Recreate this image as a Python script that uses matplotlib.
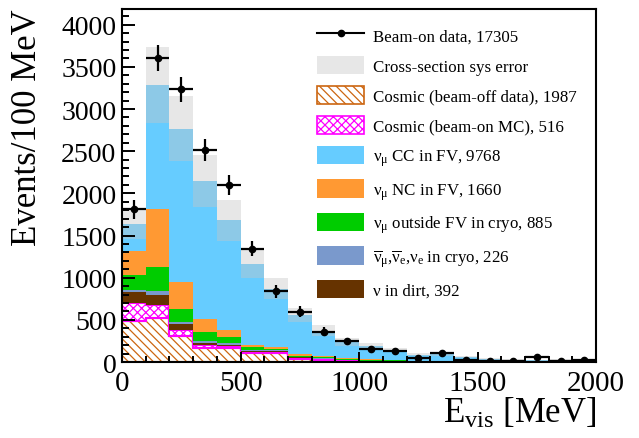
import matplotlib
matplotlib.use("Agg")
import matplotlib.pyplot as plt
import matplotlib.patches as mpatches
from matplotlib.lines import Line2D
from matplotlib.ticker import MultipleLocator
import numpy as np

plt.rcParams['font.family'] = ['Liberation Serif', 'DejaVu Serif']
plt.rcParams['mathtext.fontset'] = 'custom'
plt.rcParams['mathtext.rm'] = 'Liberation Serif'
plt.rcParams['mathtext.it'] = 'Liberation Serif:italic'
plt.rcParams['mathtext.bf'] = 'Liberation Serif:bold'
plt.rcParams['hatch.linewidth'] = 0.9

# bins of 100 MeV, 0 - 2000 MeV
edges = np.arange(0, 2100, 100)

# stacked MC components (events per bin), bottom to top
cosmic_off = [490, 517, 311, 168, 168, 106, 106, 40, 30, 15, 8, 5, 5, 5, 3, 3, 2, 2, 3, 3]
cosmic_on = [208, 157, 71, 37, 20, 14, 14, 8, 5, 4, 3, 2, 2, 2, 1, 1, 1, 1, 1, 1]
dirt = [127, 119, 64, 20, 20, 12, 10, 7, 5, 4, 4, 4, 2, 2, 1, 1, 1, 1, 1, 1]
nubar_nue = [30, 47, 24, 23, 17, 14, 8, 5, 4, 3, 2, 2, 1, 1, 1, 1, 1, 1, 1, 1]
numu_outfv = [174, 284, 157, 103, 68, 28, 16, 15, 10, 8, 6, 6, 2, 2, 2, 1, 1, 1, 1, 1]
numu_nc = [288, 694, 328, 154, 82, 27, 20, 20, 13, 10, 8, 6, 3, 3, 2, 2, 1, 1, 1, 1]
mc_total = [1633, 3280, 2768, 2145, 1680, 1165, 870, 555, 372, 236, 193, 146, 87, 90, 55, 35, 27, 20, 24, 27]
xsec_err = [170, 450, 385, 305, 240, 170, 125, 85, 62, 45, 30, 25, 18, 18, 12, 10, 8, 7, 7, 8]

# beam-on data
data = [1810, 3600, 3235, 2510, 2095, 1345, 840, 595, 362, 248, 158, 127, 45, 104, 28, 12, 10, 65, 16, 24]
data_err = [110, 155, 150, 130, 120, 90, 75, 65, 50, 35, 28, 25, 18, 22, 14, 10, 9, 18, 11, 13]

lower = [cosmic_off, cosmic_on, dirt, nubar_nue, numu_outfv, numu_nc]
numu_cc = np.array(mc_total) - np.sum(lower, axis=0)

labels = ["Beam-on data, 17305",
          "Cross-section sys error",
          "Cosmic (beam-off data), 1987",
          "Cosmic (beam-on MC), 516",
          r"ν$_{\mathrm{μ}}$ CC in FV, 9768",
          r"ν$_{\mathrm{μ}}$ NC in FV, 1660",
          r"ν$_{\mathrm{μ}}$ outside FV in cryo, 885",
          r"$\overline{\mathrm{ν}}_{\mathrm{μ}}$,$\overline{\mathrm{ν}}_{\mathrm{e}}$,$\mathrm{ν}_{\mathrm{e}}$ in cryo, 226",
          "ν in dirt, 392"]

c_off = '#cc6611'
c_on = '#ff00ff'
c_cc = '#66ccff'
c_nc = '#ff9933'
c_out = '#00cc00'
c_nubar = '#7a99cc'
c_dirt = '#663300'

fig = plt.figure(figsize=(6.39, 4.39), dpi=100)
ax = fig.add_axes([0.191, 0.173, 0.742, 0.805])

# stack
base = np.zeros(len(data))
styles = [
    dict(facecolor='white', edgecolor=c_off, hatch='\\\\\\\\'),
    dict(facecolor='white', edgecolor=c_on, hatch='xxxx'),
    dict(facecolor=c_dirt),
    dict(facecolor=c_nubar),
    dict(facecolor=c_out),
    dict(facecolor=c_nc),
    dict(facecolor=c_cc),
]
for vals, st in zip(lower + [numu_cc], styles):
    top = base + np.array(vals)
    ax.stairs(top, edges, baseline=base.copy(), fill=True, **st)
    if 'hatch' in st:
        ax.stairs(top, edges, baseline=base.copy(), color=st['edgecolor'], lw=1.5)
    base = top

# cross-section systematic band
mc = np.array(mc_total)
err = np.array(xsec_err)
ax.stairs(mc + err, edges, baseline=mc - err, fill=True,
          facecolor='#c7c7c7', alpha=0.41)

# data points
centers = 0.5 * (edges[:-1] + edges[1:])
ax.errorbar(centers, data, xerr=50, yerr=data_err, fmt='o', color='black',
            ms=4.5, elinewidth=1.6, capsize=0, zorder=5)

ax.set_xlim(0, 2000)
ax.set_ylim(0, 4190)
ax.xaxis.set_major_locator(MultipleLocator(500))
ax.xaxis.set_minor_locator(MultipleLocator(100))
ax.yaxis.set_major_locator(MultipleLocator(500))
ax.yaxis.set_minor_locator(MultipleLocator(100))
ax.tick_params(which='both', direction='in', top=False, right=False, width=1.4)
ax.tick_params(axis='y', which='major', length=9.5, labelsize=20, pad=4)
ax.tick_params(axis='y', which='minor', length=5)
ax.tick_params(axis='x', which='major', length=7.5, labelsize=21, pad=6)
ax.tick_params(axis='x', which='minor', length=4)
for sp in ax.spines.values():
    sp.set_linewidth(1.5)

ax.set_ylabel("Events/100 MeV", fontsize=25, loc='top')
ax.yaxis.set_label_coords(-0.165, 1.0)
ax.set_xlabel(r"E$_{\mathrm{vis}}$ [MeV]", fontsize=25, loc='right')
ax.xaxis.set_label_coords(1.0, -0.095)

handles = [
    Line2D([], [], color='black', marker='o', ms=4.5, lw=1.5),
    mpatches.Patch(facecolor='#c7c7c7', alpha=0.41, lw=0),
    mpatches.Patch(facecolor='white', edgecolor=c_off, hatch='\\\\\\\\', lw=1.2),
    mpatches.Patch(facecolor='white', edgecolor=c_on, hatch='xxxx', lw=1.2),
    mpatches.Patch(facecolor=c_cc, lw=0),
    mpatches.Patch(facecolor=c_nc, lw=0),
    mpatches.Patch(facecolor=c_out, lw=0),
    mpatches.Patch(facecolor=c_nubar, lw=0),
    mpatches.Patch(facecolor=c_dirt, lw=0),
]
ax.legend(handles, labels, loc='upper left', bbox_to_anchor=(0.411, 0.952),
          frameon=False, fontsize=12.2, borderpad=0, borderaxespad=0,
          handlelength=2.8, handleheight=1.3, handletextpad=0.5,
          labelspacing=0.66)

fig.savefig("out.png", dpi=100)
